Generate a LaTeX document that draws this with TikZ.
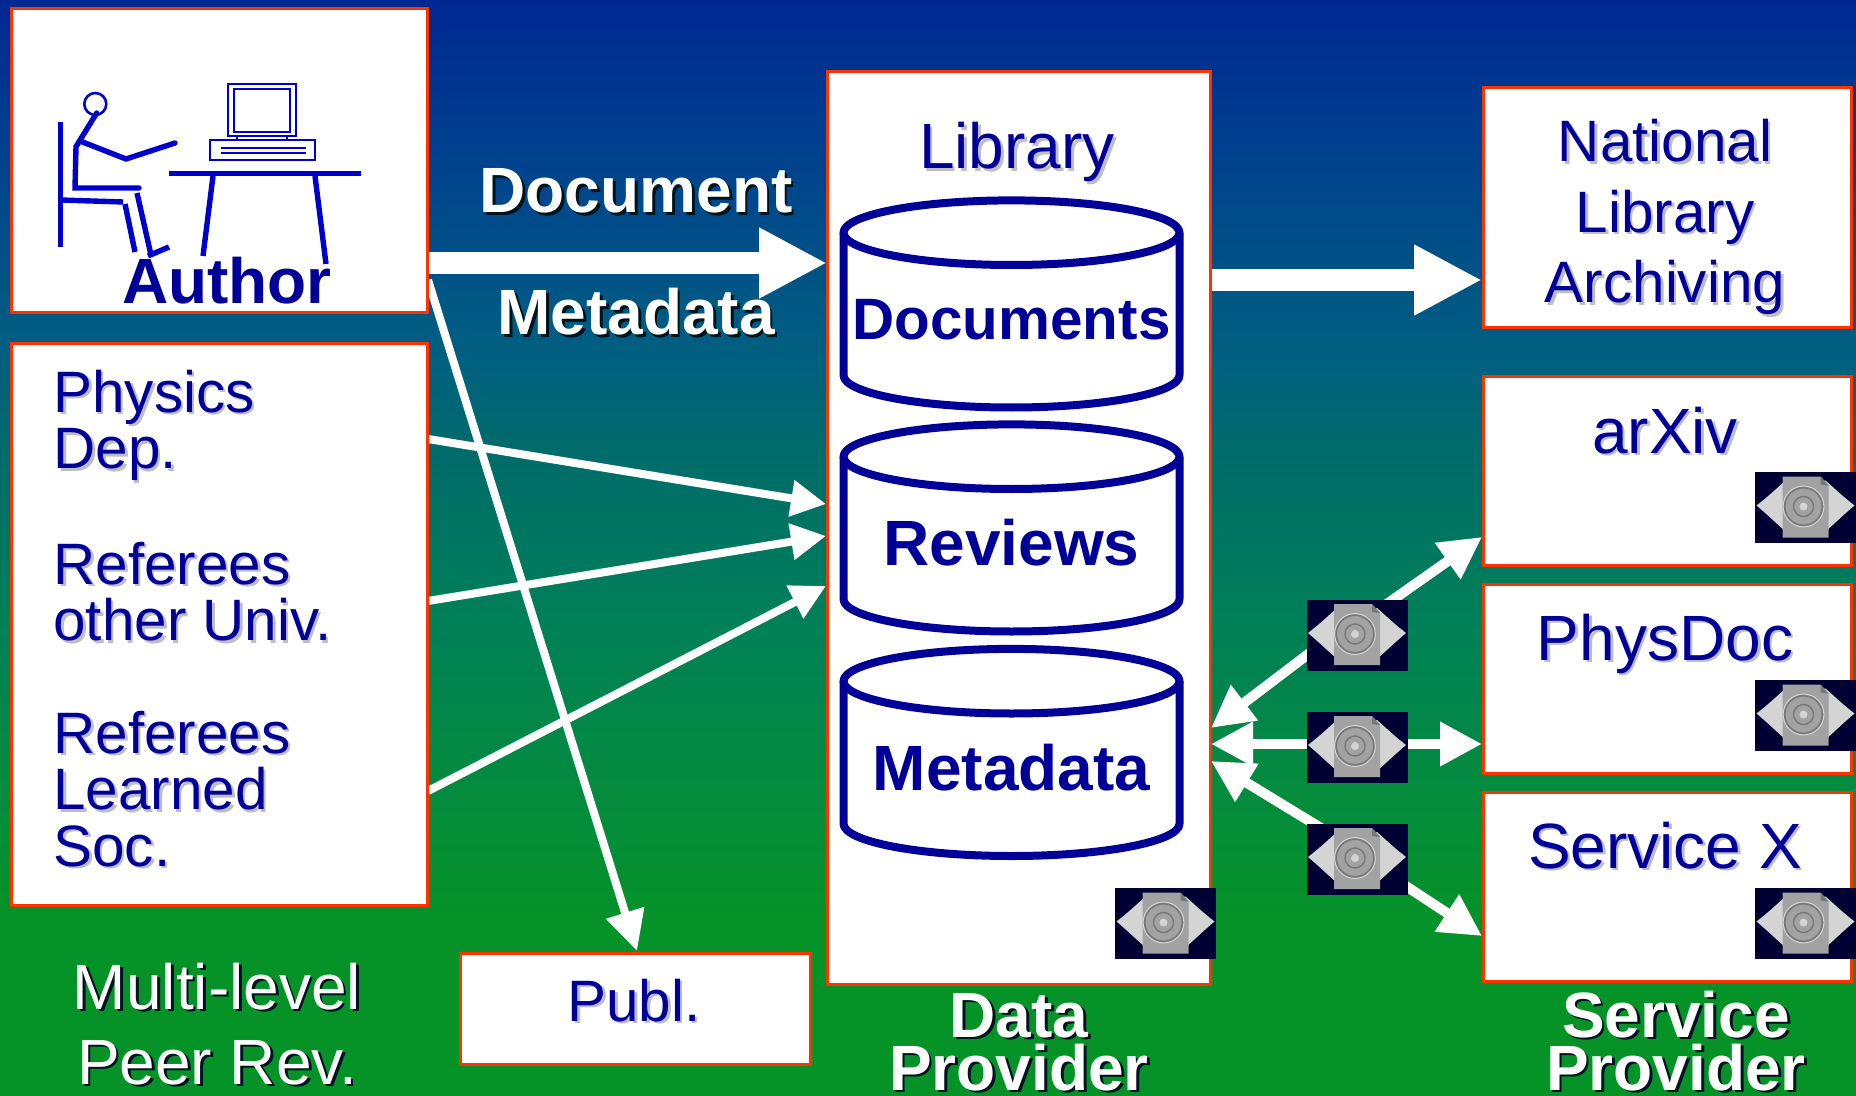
\documentclass[tikz,border=0pt]{standalone}
\usepackage{fontspec}
\setmainfont{Liberation Sans}
\usetikzlibrary{arrows.meta}
\definecolor{bgA}{RGB}{0,40,145}
\definecolor{bgB}{RGB}{0,63,143}
\definecolor{bgC}{RGB}{0,96,128}
\definecolor{bgD}{RGB}{0,107,107}
\definecolor{bgE}{RGB}{0,128,88}
\definecolor{bgF}{RGB}{4,140,60}
\definecolor{bgG}{RGB}{5,146,40}
\definecolor{bgH}{RGB}{5,146,38}
\pgfdeclareverticalshading{pagegrad}{100bp}{
  color(0bp)=(bgH); color(25bp)=(bgH); color(33bp)=(bgG); color(38.5bp)=(bgF);
  color(46.7bp)=(bgE); color(54.5bp)=(bgD); color(58.6bp)=(bgC); color(68.6bp)=(bgB);
  color(75bp)=(bgA); color(100bp)=(bgA)}
\definecolor{txtblue}{RGB}{0,0,153}
\definecolor{artblue}{RGB}{0,0,204}
\definecolor{edgered}{RGB}{255,51,0}
\definecolor{shgray}{RGB}{190,190,190}
\definecolor{shdark}{RGB}{0,20,30}
\definecolor{iconbg}{RGB}{0,0,51}
\definecolor{iconlens}{RGB}{212,212,212}
\definecolor{iconpage}{RGB}{162,162,162}
\definecolor{iconring}{RGB}{120,120,120}
\newcommand{\grayshade}[1]{\leavevmode\rlap{\kern1.3pt\raisebox{-1.3pt}{\color{shgray}#1}}#1}
\newcommand{\darkshade}[1]{\leavevmode\rlap{\kern1.4pt\raisebox{-1.4pt}{\color{shdark}#1}}#1}
\newcommand{\bigsize}{\fontsize{32}{32}\selectfont}
\newcommand{\midsize}{\fontsize{29.2}{29}\selectfont}
\pgfdeclarelayer{back}
\pgfdeclarelayer{mid}
\pgfsetlayers{back,mid,main}
\tikzset{
  x=0.5pt,y=-0.5pt,
  panel/.style={draw=edgered,line width=1.5pt,fill=white,inner sep=0pt,rectangle},
  bluetext/.style={text=txtblue,inner sep=0pt,font=\bigsize,align=center},
  bluesmall/.style={text=txtblue,inner sep=0pt,font=\midsize},
  whitetext/.style={text=white,inner sep=0pt,font=\bigsize\bfseries,align=center},
  whitethin/.style={text=white,inner sep=0pt,font=\bigsize,align=center},
  cyltext/.style={text=txtblue,inner sep=0pt,font=\bigsize\bfseries},
  cylline/.style={draw=txtblue,line width=4pt,fill=white,line join=round},
  art/.style={draw=artblue,line width=2.7pt,line join=miter},
  artthin/.style={draw=artblue,line width=1.1pt},
  flow/.style={draw=white,line width=4pt,-{Triangle[length=17.5pt,width=17.5pt]}},
  sync/.style={draw=white,line width=5pt,-{Triangle[length=21pt,width=21pt]}},
  wide/.style={draw=white,line width=11pt,-{Triangle[length=34pt,width=33pt]}},
  iconbox/.style={rectangle,fill=iconbg,inner sep=0pt,minimum width=50.5pt,minimum height=35.5pt,
    path picture={
      \begin{scope}[shift={(path picture bounding box.center)}]
        \fill[iconlens] (-49,-2) .. controls (-36,-12) and (-28,-20) .. (-20,-27) -- (20,-27) .. controls (28,-20) and (36,-12) .. (49,-2)
          .. controls (36,9) and (28,17) .. (20,24) -- (-20,24) .. controls (-28,17) and (-36,9) .. (-49,-2) -- cycle;
        \fill[iconpage] (-23,-31) -- (15,-31) -- (23,-22) -- (23,30) -- (-23,30) -- cycle;
        \fill[iconring] (15,-31) -- (15,-23) -- (23,-22) -- cycle;
        \draw[iconlens,line width=0.5pt] (-2,-1) circle[radius=10.2pt];
        \draw[iconring,line width=0.8pt] (-2,-1) circle[radius=9.4pt];
        \draw[iconring,line width=0.7pt] (-2,-1) circle[radius=5pt];
        \fill[iconlens] (-2,-1) circle[radius=2pt];
      \end{scope}
    }},
}
\begin{document}
\begin{tikzpicture}
\useasboundingbox (0,0) rectangle (1856,1096);
\begin{pgfonlayer}{back}
  \shade[shading=pagegrad] (0,0) rectangle (1856,1096);
\end{pgfonlayer}

% panels
\node[panel,minimum width=208pt,minimum height=152pt] (author) at (219.5,160.5) {};
\node[panel,minimum width=208pt,minimum height=280.5pt] (peers) at (219.5,624.5) {};
\node[panel,minimum width=175pt,minimum height=55.5pt] (publ) at (635,1008.5) {};
\node[panel,minimum width=191.5pt,minimum height=456pt] (library) at (1019,528) {};
\node[panel,minimum width=184pt,minimum height=120pt] (national) at (1667.5,208) {};
\node[panel,minimum width=184pt,minimum height=94.5pt] (arxiv) at (1667.5,471) {};
\node[panel,minimum width=184pt,minimum height=94.5pt] (physdoc) at (1667.5,678.5) {};
\node[panel,minimum width=184pt,minimum height=94.5pt] (servicex) at (1667.5,886.5) {};

% icons
\node[iconbox] (eyetop) at (1357,635) {};
\node[iconbox] (eyemid) at (1357,747) {};
\node[iconbox] (eyelow) at (1357,859) {};
\node[iconbox] (eyelib) at (1165.5,923.5) {};
\node[iconbox] (eyearxiv) at (1805.5,507.5) {};
\node[iconbox] (eyephys) at (1805.5,715.5) {};
\node[iconbox] (eyeserv) at (1805.5,923.5) {};

% connector ends
\coordinate (wideA) at (428,263);
\coordinate (wideB) at (827,263);
\coordinate (wideC) at (1211,280);
\coordinate (wideD) at (1482,280);
\coordinate (auA) at (428,280);
\coordinate (publIn) at (637,951);
\coordinate (pA) at (428,439);
\coordinate (lA) at (826,504);
\coordinate (pB) at (428,601);
\coordinate (lB) at (826,536);
\coordinate (pC) at (428,791);
\coordinate (lC) at (826,586);
\coordinate (libTop) at (1211,728);
\coordinate (libMid) at (1211,744);
\coordinate (libLow) at (1211,761);
\coordinate (arxIn) at (1482,537);
\coordinate (physIn) at (1482,744);
\coordinate (servIn) at (1482,936);
\coordinate (topL) at (1357,617);
\coordinate (topR) at (1357,625);
\coordinate (lowL) at (1357,850);
\coordinate (lowR) at (1357,854);

\begin{pgfonlayer}{mid}
  \draw[wide] (wideA) -- (wideB);
  \draw[wide] (wideC) -- (wideD);
  \draw[flow,-{Triangle[length=20pt,width=19pt]}] (auA) -- (publIn);
  \draw[flow] (pA) -- (lA);
  \draw[flow] (pB) -- (lB);
  \draw[flow] (pC) -- (lC);
  \draw[sync] (topL) -- (libTop);
  \draw[sync] (topR) -- (arxIn);
  \draw[sync] (eyemid.center |- libMid) -- (libMid);
  \draw[sync] (eyemid.center |- physIn) -- (physIn);
  \draw[sync] (lowL) -- (libLow);
  \draw[sync] (lowR) -- (servIn);
\end{pgfonlayer}

% cylinders
\foreach \n/\dy in {0/0,1/224,2/448.5}{
  \draw[cylline] (843.5,232.7+\dy) -- (843.5,375.2+\dy)
     arc[start angle=180,end angle=360,x radius=84pt,y radius=16.15pt]
     -- (1179.5,232.7+\dy);
  \draw[cylline] (1011.5,232.7+\dy) ellipse[x radius=84pt,y radius=16.15pt];
}

% author clip art
\draw[art] (60.7,121.7) -- (60.7,246.7);
\draw[art] (60.7,200) -- (123,202);
\draw[art] (125,204) -- (135,252);
\draw[artthin,line width=1.3pt] (95.3,104) circle[radius=5.5pt];
\draw[art,line cap=round] (96.7,113) -- (76,146.7) -- (75,188) -- (139,188);
\draw[art] (137,193) -- (151,255);
\draw[art] (148,256) -- (169,247);
\draw[art,line cap=round,line join=round] (80,141) -- (126,159) -- (175,143);
\draw[art] (169,173.7) -- (361,173.7);
\draw[art] (213,176) -- (203,256);
\draw[art] (315,176) -- (326,264);
\draw[artthin] (228,84) rectangle (296,136);
\draw[artthin] (234,89) rectangle (290,132);
\draw[artthin] (237,136) -- (237,140);
\draw[artthin] (287,136) -- (287,140);
\draw[artthin] (210,140) rectangle (315,160);
\draw[artthin] (221,148) -- (306,148);
\draw[artthin] (221,153) -- (306,153);

% texts
\node[cyltext,anchor=base] (authorlabel) at (227,304) {Author};
\node[whitetext,anchor=base] (doclabel) at (636,213) {\darkshade{Document}};
\node[whitetext,anchor=base] (metalabel) at (636,335) {\darkshade{Metadata}};
\node[bluesmall,anchor=base west,align=left,font=\fontsize{29.2}{28.2}\selectfont] (peerlist) at (53,866) {%
  \grayshade{Physics}\\ \grayshade{Dep.}\\[28.2pt] \grayshade{Referees}\\ \grayshade{other Univ.}\\[28.2pt] \grayshade{Referees}\\ \grayshade{Learned}\\ \grayshade{Soc.}};
\node[whitethin,anchor=base,font=\fontsize{32}{37.5}\selectfont] (peerlabel) at (217,1084) {\darkshade{Multi-level}\\ \darkshade{Peer Rev.}};
\node[bluesmall,anchor=base] (publlabel) at (634,1021) {\grayshade{Publ.}};
\node[bluetext,anchor=base] (liblabel) at (1017,169) {\grayshade{Library}};
\node[cyltext,anchor=base,font=\fontsize{29.2}{29}\selectfont\bfseries] (cdocs) at (1011.5,340) {Documents};
\node[cyltext,anchor=base] (crev) at (1011.5,565) {Reviews};
\node[cyltext,anchor=base] (cmeta) at (1011.5,790) {Metadata};
\node[whitetext,anchor=base,font=\fontsize{32}{26.5}\selectfont\bfseries] (dplabel) at (1019,1090) {\darkshade{Data}\\ \darkshade{Provider}};
\node[bluesmall,anchor=base,align=center,font=\fontsize{29.2}{35.3}\selectfont] (natlabel) at (1665,303) {\grayshade{National}\\ \grayshade{Library}\\ \grayshade{Archiving}};
\node[bluetext,anchor=base] (arxlabel) at (1665,453) {\grayshade{arXiv}};
\node[bluetext,anchor=base] (physlabel) at (1665,660) {\grayshade{PhysDoc}};
\node[bluetext,anchor=base] (servlabel) at (1665,868) {\grayshade{Service X}};
\node[whitetext,anchor=base,font=\fontsize{32}{26.5}\selectfont\bfseries] (splabel) at (1676,1090) {\darkshade{Service}\\ \darkshade{Provider}};
\end{tikzpicture}
\end{document}
